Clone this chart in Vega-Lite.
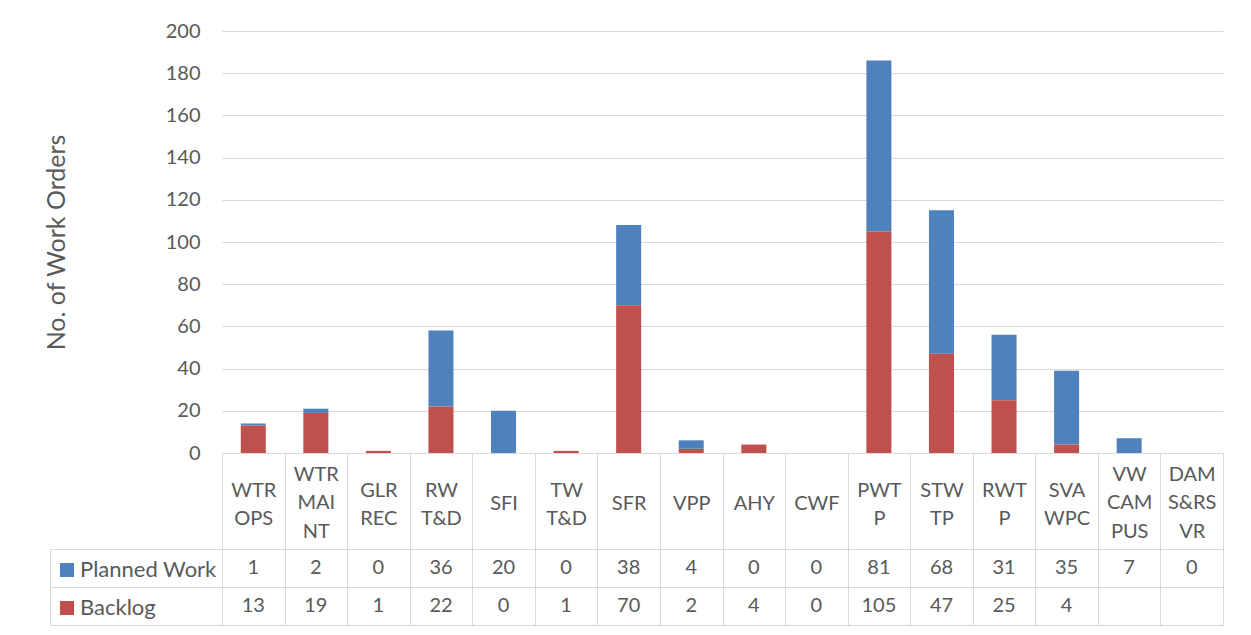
{
  "$schema": "https://vega.github.io/schema/vega-lite/v6.json",
  "padding": {"left": 44, "top": 21, "right": 5, "bottom": 5},
  "background": "white",
  "config": {
    "view": {"stroke": null},
    "font": "Lato",
    "axis": {"labelFont": "Lato", "titleFont": "Lato", "labelColor": "#595959", "titleColor": "#595959", "labelFontSize": 20, "titleFontSize": 25, "titleFontWeight": "normal"}
  },
  "datasets": {
    "wo": [
      {"cat": "WTR OPS", "series": "Planned Work", "value": 1},
      {"cat": "WTR MAI NT", "series": "Planned Work", "value": 2},
      {"cat": "GLR REC", "series": "Planned Work", "value": 0},
      {"cat": "RW T&D", "series": "Planned Work", "value": 36},
      {"cat": "SFI", "series": "Planned Work", "value": 20},
      {"cat": "TW T&D", "series": "Planned Work", "value": 0},
      {"cat": "SFR", "series": "Planned Work", "value": 38},
      {"cat": "VPP", "series": "Planned Work", "value": 4},
      {"cat": "AHY", "series": "Planned Work", "value": 0},
      {"cat": "CWF", "series": "Planned Work", "value": 0},
      {"cat": "PWT P", "series": "Planned Work", "value": 81},
      {"cat": "STW TP", "series": "Planned Work", "value": 68},
      {"cat": "RWT P", "series": "Planned Work", "value": 31},
      {"cat": "SVA WPC", "series": "Planned Work", "value": 35},
      {"cat": "VW CAM PUS", "series": "Planned Work", "value": 7},
      {"cat": "DAM S&RS VR", "series": "Planned Work", "value": 0},
      {"cat": "WTR OPS", "series": "Backlog", "value": 13},
      {"cat": "WTR MAI NT", "series": "Backlog", "value": 19},
      {"cat": "GLR REC", "series": "Backlog", "value": 1},
      {"cat": "RW T&D", "series": "Backlog", "value": 22},
      {"cat": "SFI", "series": "Backlog", "value": 0},
      {"cat": "TW T&D", "series": "Backlog", "value": 1},
      {"cat": "SFR", "series": "Backlog", "value": 70},
      {"cat": "VPP", "series": "Backlog", "value": 2},
      {"cat": "AHY", "series": "Backlog", "value": 4},
      {"cat": "CWF", "series": "Backlog", "value": 0},
      {"cat": "PWT P", "series": "Backlog", "value": 105},
      {"cat": "STW TP", "series": "Backlog", "value": 47},
      {"cat": "RWT P", "series": "Backlog", "value": 25},
      {"cat": "SVA WPC", "series": "Backlog", "value": 4}
    ]
  },
  "bounds": "flush",
  "spacing": 96,
  "resolve": {"scale": {"color": "independent"}, "legend": {"color": "independent"}},
  "vconcat": [
    {
      "width": 1001,
      "height": 422,
      "data": {"name": "wo"},
      "mark": {"type": "bar", "width": {"band": 0.4}},
      "encoding": {
        "x": {
          "field": "cat", "type": "nominal", "sort": null,
          "scale": {"type": "band", "domain": ["WTR OPS", "WTR MAI NT", "GLR REC", "RW T&D", "SFI", "TW T&D", "SFR", "VPP", "AHY", "CWF", "PWT P", "STW TP", "RWT P", "SVA WPC", "VW CAM PUS", "DAM S&RS VR"], "paddingInner": 0, "paddingOuter": 0},
          "axis": {
            "title": null, "labelAngle": 0, "labelExpr": "split(datum.label, ' ')", "labelBaseline": "middle", "labelLineHeight": 28.5,
            "labelPadding": {"condition": [{"test": "length(split(datum.value, ' ')) == 3", "value": -75}, {"test": "length(split(datum.value, ' ')) == 2", "value": -59}], "value": -46},
            "labelOverlap": false, "tickBand": "extent", "tickSize": 96, "tickColor": "#D9D9D9", "domainColor": "#D9D9D9", "grid": false
          }
        },
        "y": {
          "field": "value", "type": "quantitative", "stack": "zero",
          "scale": {"domain": [0, 200]},
          "axis": {"title": "No. of Work Orders", "values": [0, 20, 40, 60, 80, 100, 120, 140, 160, 180, 200], "grid": true, "gridColor": "#D9D9D9", "domain": false, "ticks": false, "labelPadding": 22, "titlePadding": 96}
        },
        "color": {
          "field": "series", "type": "nominal",
          "scale": {"domain": ["Planned Work", "Backlog"], "range": ["#4F81BD", "#C0504D"]},
          "legend": {"orient": "none", "legendX": -166, "legendY": 528, "title": null, "symbolType": "square", "symbolSize": 196, "symbolStrokeWidth": 0, "labelFontSize": 22, "labelColor": "#595959", "labelFont": "Lato", "rowPadding": 16, "labelOffset": 2, "padding": 0}
        },
        "order": {"field": "series", "sort": "ascending"}
      }
    },
    {
      "width": 1001,
      "height": 76,
      "data": {"name": "wo"},
      "mark": {"type": "text", "fontSize": 20, "color": "#595959", "font": "Lato"},
      "encoding": {
        "x": {
          "field": "cat", "type": "nominal", "sort": null,
          "scale": {"type": "band", "domain": ["WTR OPS", "WTR MAI NT", "GLR REC", "RW T&D", "SFI", "TW T&D", "SFR", "VPP", "AHY", "CWF", "PWT P", "STW TP", "RWT P", "SVA WPC", "VW CAM PUS", "DAM S&RS VR"], "paddingInner": 0, "paddingOuter": 0},
          "axis": {"title": null, "labels": false, "ticks": false, "domain": false, "grid": true, "gridColor": "#D9D9D9", "tickBand": "extent"}
        },
        "y": {
          "field": "series", "type": "nominal", "sort": null,
          "scale": {"type": "band", "domain": ["Planned Work", "Backlog"], "paddingInner": 0, "paddingOuter": 0},
          "axis": {"title": null, "labels": false, "offset": 172, "tickBand": "extent", "tickSize": -1173, "tickColor": "#D9D9D9", "domainColor": "#D9D9D9", "grid": false}
        },
        "text": {"field": "value", "type": "quantitative"}
      }
    }
  ]
}
